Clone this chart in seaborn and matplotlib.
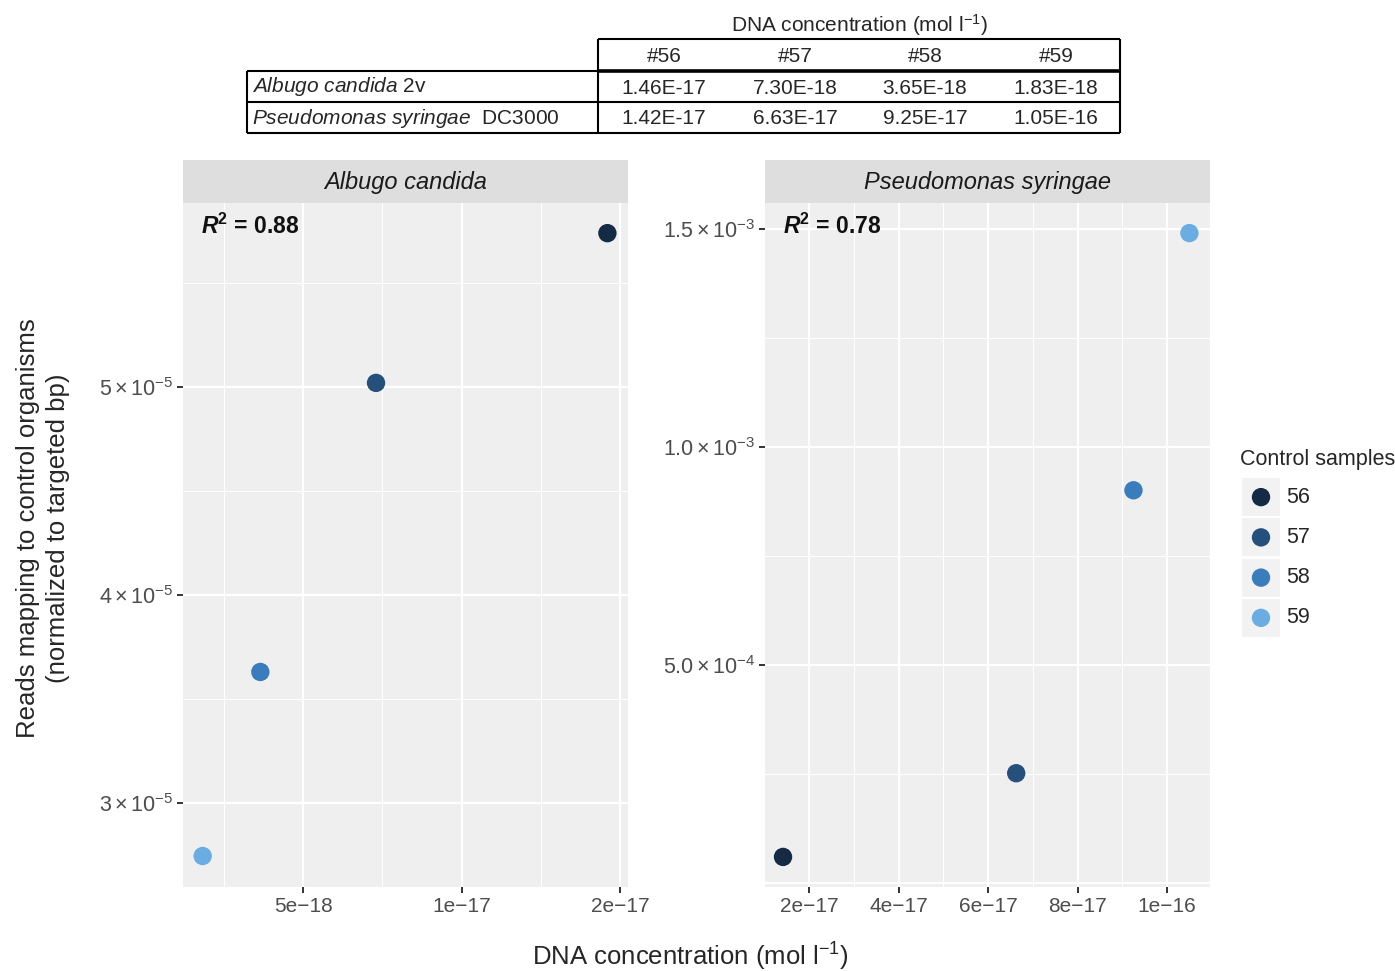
import matplotlib
matplotlib.use("Agg")
import matplotlib.pyplot as plt
import seaborn as sns
import pandas as pd
from matplotlib.patches import Rectangle
from matplotlib.ticker import FixedLocator

# 01- Data
samples = ["56", "57", "58", "59"]
sample_colors = ["#142A45", "#25507C", "#3A7DBD", "#6AADE3"]

albugo_conc = [1.46e-17, 7.30e-18, 3.65e-18, 1.83e-18]
albugo_reads = [5.74e-5, 5.02e-5, 3.63e-5, 2.745e-5]
pseudo_conc = [1.42e-17, 6.63e-17, 9.25e-17, 1.05e-16]
pseudo_reads = [6.0e-5, 2.52e-4, 9.01e-4, 1.491e-3]

organisms = ["Albugo candida", "Pseudomonas syringae"]
r2_values = [0.88, 0.78]

table_header = ["#56", "#57", "#58", "#59"]
table_rows = [r"$\mathit{Albugo\ candida}$ 2v", r"$\mathit{Pseudomonas\ syringae}$  DC3000"]
table_albugo = ["1.46E-17", "7.30E-18", "3.65E-18", "1.83E-18"]
table_pseudo = ["1.42E-17", "6.63E-17", "9.25E-17", "1.05E-16"]

# tick setup (left panel labels are as printed in the original)
albugo_xticks = [5e-18, 1e-17, 1.5e-17]
albugo_xlabels = ["5e\u221218", "1e\u221217", "2e\u221217"]
albugo_xminor = [2.5e-18, 7.5e-18, 1.25e-17]
albugo_yticks = [3e-5, 4e-5, 5e-5]
albugo_ylabels = [r"$3\times10^{-5}$", r"$4\times10^{-5}$", r"$5\times10^{-5}$"]
albugo_yminor = [3.5e-5, 4.5e-5, 5.5e-5]

pseudo_xticks = [2e-17, 4e-17, 6e-17, 8e-17, 1e-16]
pseudo_xlabels = ["2e\u221217", "4e\u221217", "6e\u221217", "8e\u221217", "1e\u221216"]
pseudo_xminor = [1e-17, 3e-17, 5e-17, 7e-17, 9e-17]
pseudo_yticks = [5e-4, 1e-3, 1.5e-3]
pseudo_ylabels = [r"$5.0\times10^{-4}$", r"$1.0\times10^{-3}$", r"$1.5\times10^{-3}$"]
pseudo_yminor = [2.5e-4, 7.5e-4, 1.25e-3]

# 02- Style
sns.set_theme(style="darkgrid", rc={"axes.facecolor": "#EFEFEF", "grid.color": "white"})
plt.rcParams["font.family"] = ["Liberation Sans", "DejaVu Sans"]
plt.rcParams["mathtext.fontset"] = "custom"
plt.rcParams["mathtext.rm"] = "Liberation Sans"
plt.rcParams["mathtext.it"] = "Liberation Sans:italic"
plt.rcParams["mathtext.bf"] = "Liberation Sans:bold"
plt.rcParams["mathtext.bfit"] = "Liberation Sans:italic:bold"

W, H = 1395, 971
fig = plt.figure(figsize=(W / 100, H / 100), dpi=100)
palette = dict(zip(samples, sample_colors))


def px_axes(x0, y0, x1, y1, **kw):
    return fig.add_axes([x0 / W, 1 - y1 / H, (x1 - x0) / W, (y1 - y0) / H], **kw)


panels = [
    (183, albugo_conc, albugo_reads, (1.21e-18, 1.525e-17), (2.596e-5, 5.885e-5),
     albugo_xticks, albugo_xlabels, albugo_xminor, albugo_yticks, albugo_ylabels, albugo_yminor),
    (765, pseudo_conc, pseudo_reads, (1.017e-17, 1.096e-16), (-9e-6, 1.56e-3),
     pseudo_xticks, pseudo_xlabels, pseudo_xminor, pseudo_yticks, pseudo_ylabels, pseudo_yminor),
]

for i, (x0, conc, reads, xlim, ylim, xt, xl, xm, yt, yl, ym) in enumerate(panels):
    ax = px_axes(x0, 203, x0 + 445, 887)
    df = pd.DataFrame({"conc": conc, "reads": reads, "sample": samples})
    sns.scatterplot(data=df, x="conc", y="reads", hue="sample", palette=palette,
                    s=175, edgecolor="none", legend=False, ax=ax, zorder=3)
    ax.set_xlim(*xlim)
    ax.set_ylim(*ylim)
    ax.set_xticks(xt)
    ax.set_xticklabels(xl)
    ax.set_yticks(yt)
    ax.set_yticklabels(yl)
    ax.xaxis.set_minor_locator(FixedLocator(xm))
    ax.yaxis.set_minor_locator(FixedLocator(ym))
    ax.grid(which="major", color="white", linewidth=1.6)
    ax.grid(which="minor", color="white", linewidth=0.8)
    if i == 1:
        ax.axhline(0, color="white", linewidth=1.6, zorder=0.6)
    ax.tick_params(which="major", length=4, width=1.4, color="#333333",
                   labelcolor="#4D4D4D", pad=3, bottom=True, left=True)
    ax.tick_params(axis="x", which="major", labelsize=15)
    ax.tick_params(axis="y", which="major", labelsize=15.5)
    ax.tick_params(which="minor", length=0)
    ax.set_xlabel("")
    ax.set_ylabel("")
    for sp in ax.spines.values():
        sp.set_visible(False)
    ax.text(0.04, 0.966, r"$\mathbfit{R}^{\mathbf{2}}$" + f" = {r2_values[i]:.2f}",
            transform=ax.transAxes, ha="left", va="center", fontsize=16.5,
            fontweight="bold", color="#111111")

    # facet strip
    sx = px_axes(x0, 160, x0 + 445, 203)
    sx.set_facecolor("#DEDEDE")
    sx.set_xticks([])
    sx.set_yticks([])
    sx.grid(False)
    for sp in sx.spines.values():
        sp.set_visible(False)
    sx.text(0.5, 0.47, organisms[i], ha="center", va="center", fontsize=17,
            style="italic", color="#1A1A1A", transform=sx.transAxes)

# 03- Axis titles
fig.text(43 / W, 1 - 528 / H, "Reads mapping to control organisms\n(normalized to targeted bp)",
         rotation=90, ha="center", va="center", fontsize=18.5, linespacing=1.3)
fig.text(690 / W, 1 - 957 / H, r"DNA concentration (mol l$^{-1}$)",
         ha="center", va="center", fontsize=18.5)

# 04- Legend
fig.text(1240 / W, 1 - 459 / H, "Control samples", ha="left", va="center", fontsize=15.5)
lg = px_axes(1242, 477, 1280, 638)
lg.set_xlim(0, 1)
lg.set_ylim(4, 0)
lg.axis("off")
for k, (s, c) in enumerate(zip(samples, sample_colors)):
    lg.add_patch(Rectangle((0, k + 0.03), 1, 0.94, facecolor="#F2F2F2", edgecolor="none"))
    lg.scatter([0.5], [k + 0.5], s=175, color=c, edgecolor="none", zorder=3)
    lg.text(1.16, k + 0.5, s, ha="left", va="center", fontsize=15.5, clip_on=False)

# 05- Table above the panels
tb = fig.add_axes([0, 0, 1, 1], zorder=-1)
tb.set_xlim(0, W)
tb.set_ylim(H, 0)
tb.axis("off")
tb.text(860, 25, r"DNA concentration (mol l$^{-1}$)", ha="center", va="center", fontsize=15)
line_kw = dict(color="black", linewidth=1.5, solid_capstyle="butt")
tb.plot([598, 1120], [39, 39], **line_kw)
tb.plot([598, 598], [39, 133], **line_kw)
tb.plot([1120, 1120], [39, 133], **line_kw)
tb.plot([247, 247], [71, 133], **line_kw)
tb.plot([247, 598], [71, 71], **line_kw)
tb.plot([598, 1120], [71, 71], color="black", linewidth=2.6, solid_capstyle="butt")
tb.plot([247, 1120], [102, 102], **line_kw)
tb.plot([247, 1120], [133, 133], **line_kw)
col_centers = [664, 795, 925, 1056]
for cx, h in zip(col_centers, table_header):
    tb.text(cx, 56, h, ha="center", va="center", fontsize=15)
for ry, label, vals in zip([88, 119], table_rows, [table_albugo, table_pseudo]):
    tb.text(252, ry - 1, label, ha="left", va="center", fontsize=15)
    for cx, v in zip(col_centers, vals):
        tb.text(cx, ry, v, ha="center", va="center", fontsize=15)

fig.savefig("out.png", dpi=100)
